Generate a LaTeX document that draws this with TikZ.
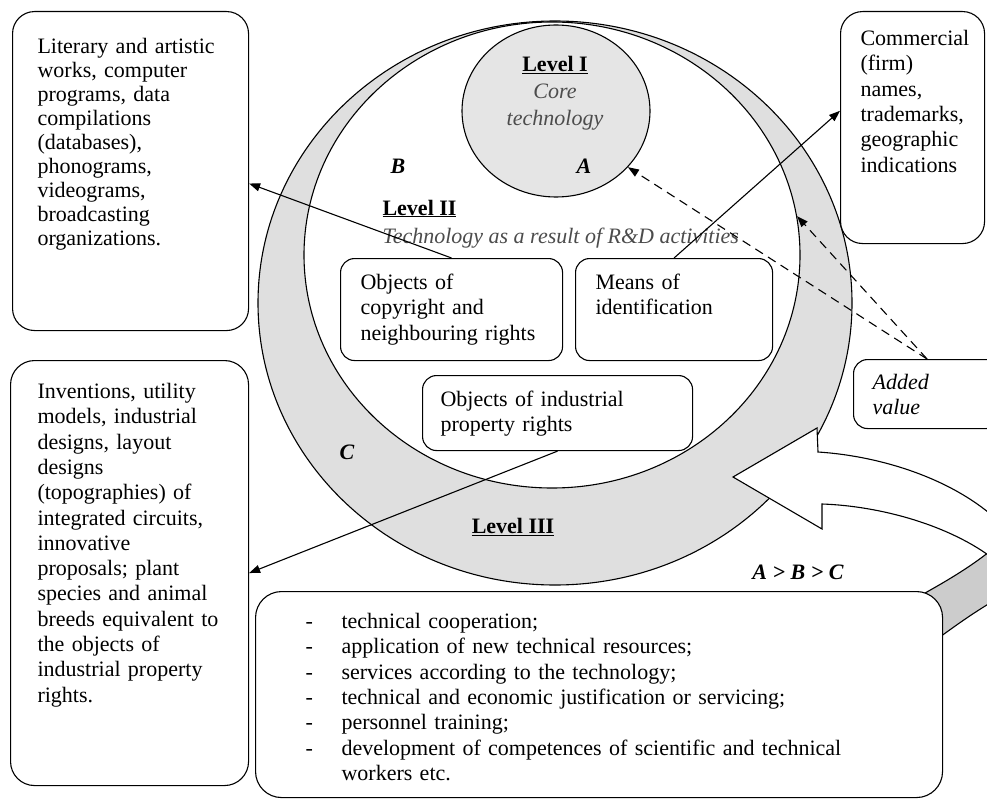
\documentclass[tikz,border=0pt]{standalone}
\usepackage{fontspec}
\setmainfont{Liberation Serif}
\usepackage{tikz}
\usetikzlibrary{positioning,shapes.geometric,arrows.meta}

\newcommand{\listdash}{\hspace*{10pt}\makebox[36pt][l]{-}}

\begin{document}
\begin{tikzpicture}[x=1pt, y=-1pt, line width=1.1pt,
    box/.style={draw, fill=white, rounded corners=14pt, align=left, anchor=north west,
      inner ysep=8pt, font=\fontsize{22pt}{25.3pt}\selectfont},
    ring/.style={draw, ellipse, inner sep=0pt},
    tag/.style={font=\fontsize{22pt}{25.3pt}\selectfont\bfseries\itshape},
    link/.style={-{Triangle[length=11pt,width=8pt]}},
    hint/.style={link, dash pattern=on 9pt off 6pt}]

    \useasboundingbox (0,0) rectangle (987,805);
    \clip (0,0) rectangle (987,805);

    % Level III ring and the two inner levels
    \node[ring, fill=gray!25, minimum width=594pt, minimum height=564pt] (leveliii) at (555,303) {};
    \node[ring, fill=white, minimum width=496pt, minimum height=466pt] (levelii) at (552,255) {};
    \node[ring, fill=gray!20, minimum width=188pt, minimum height=172pt] (core) at (556,111) {};

    % Level labels
    \node[align=center, font=\fontsize{22pt}{27pt}\selectfont] (corename) at (555,93)
        {\underline{\textbf{Level I}}\\ \textcolor{black!70}{\textit{Core}}\\ \textcolor{black!70}{\textit{technology}}};
    \node[anchor=base west, inner sep=0pt, font=\fontsize{22pt}{25.3pt}\selectfont\bfseries] (leveliiname) at (382,215) {\underline{Level II}};
    \node[anchor=base west, inner sep=0pt, text=black!70, font=\fontsize{22pt}{25.3pt}\selectfont\itshape] (leveliinote) at (382,243)
        {Technology as a result of R\&D activities};
    \node[font=\fontsize{22pt}{25.3pt}\selectfont\bfseries] (leveliiiname) at (513,527) {\underline{Level III}};
    \node[tag] (b) at (398,166) {B};
    \node[tag] (a) at (584,166) {A};
    \node[tag] (c) at (347,452) {C};
    \node[tag] (order) at (798,572) {A > B > C};

    % Curved arrow, back side first
    \filldraw[fill=gray!40] (905,604) .. controls (940,585) and (970,568) .. (995,547)
        -- (995,600) .. controls (975,612) and (960,622) .. (925,648) -- cycle;
    \filldraw[fill=white] (733,477) -- (817,428) -- (818,452) .. controls (880,456) and (950,478) .. (995,518)
        -- (995,560) .. controls (950,525) and (880,506) .. (822,504) -- (822,529) -- cycle;

    % Boxes inside Level II
    \node[box, text width=182pt, inner xsep=20pt, text height=23pt, text depth=63pt] (copyright) at (340,258)
        {Objects of\\copyright and\\neighbouring rights};
    \node[box, text width=157pt, inner xsep=20pt, text height=23pt, text depth=63pt] (means) at (575,258)
        {Means of\\identification};
    \node[box, text width=234pt, inner xsep=18pt, text height=23pt, text depth=36pt] (industrial) at (422,375)
        {Objects of industrial\\property rights};

    % Outer boxes
    \node[box, text width=186pt, inner xsep=25pt, text height=34pt, text depth=269pt, rounded corners=22pt,
        font=\fontsize{22pt}{24pt}\selectfont] (works) at (12,11)
        {Literary and artistic\\works, computer\\programs, data\\compilations\\(databases),\\phonograms,\\videograms,\\broadcasting\\organizations.};
    \node[box, text width=104pt, inner xsep=20pt, text height=26pt, text depth=190pt, rounded corners=22pt] (names) at (840,11)
        {Commercial\\(firm)\\names,\\trademarks,\\geographic\\indications};
    \node[box, text width=184pt, inner xsep=27pt, text height=30pt, text depth=379pt, rounded corners=24pt] (inventions) at (10,360)
        {Inventions, utility\\models, industrial\\designs, layout\\designs\\(topographies) of\\integrated circuits,\\innovative\\proposals; plant\\species and animal\\breeds equivalent to\\the objects of\\industrial property\\rights.};
    \node[box, text width=109pt, inner xsep=19pt, text height=22pt, text depth=31pt] (added) at (853,359)
        {\itshape Added\\value};
    \node[box, text width=607pt, inner xsep=40pt, text height=29pt, text depth=161pt, rounded corners=26pt] (services) at (255,591)
        {\listdash technical cooperation;\\
         \listdash application of new technical resources;\\
         \listdash services according to the technology;\\
         \listdash technical and economic justification or servicing;\\
         \listdash personnel training;\\
         \listdash\makebox[561pt][s]{development of competences of scientific and technical}\\
         \hspace*{46pt}workers etc.};

    % Arrows
    \draw[link] (copyright.north) -- (works.-6);
    \draw[link] (means.north) -- (names.167);
    \draw[link] (industrial.south) -- (inventions.east);
    \draw[hint] (added.north) -- (core.-38);
    \draw[hint] (added.north) -- (levelii.9);

\end{tikzpicture}
\end{document}
